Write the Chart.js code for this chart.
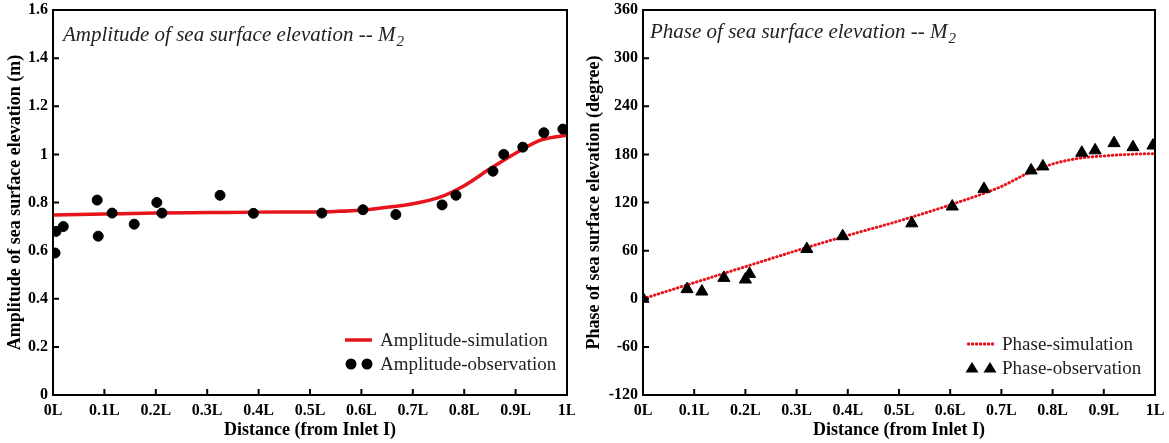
<!DOCTYPE html>
<html>
<head>
<meta charset="utf-8">
<script src="https://cdn.jsdelivr.net/npm/chart.js@4/dist/chart.umd.min.js"></script>
<style>
    html, body { margin: 0; padding: 0; background: #fff; }
    #wrap { position: relative; width: 1169px; height: 443px; }
    canvas { position: absolute; top: 0; }
</style>
</head>
<body>
<div id="wrap">
    <canvas id="ampChart" style="left:0;width:575px;height:443px"></canvas>
    <canvas id="phaseChart" style="left:575px;width:594px;height:443px"></canvas>
</div>
<script>
// ---- data ----
const xTickLabels = ['0L', '0.1L', '0.2L', '0.3L', '0.4L', '0.5L', '0.6L', '0.7L', '0.8L', '0.9L', '1L'];
const ampTickLabels = ['0', '0.2', '0.4', '0.6', '0.8', '1', '1.2', '1.4', '1.6'];
const phaseTickLabels = ['-120', '-60', '0', '60', '120', '180', '240', '300', '360'];

const ampSimX = [0, 0.1, 0.2, 0.3, 0.4, 0.5, 0.55, 0.6, 0.65, 0.7, 0.75, 0.8, 0.85, 0.9, 0.95, 1.0];
const ampSimY = [0.748, 0.752, 0.756, 0.758, 0.76, 0.761, 0.763, 0.768, 0.78, 0.795, 0.82, 0.87, 0.94, 1.005, 1.06, 1.08];

const ampObsX = [0.004, 0.006, 0.02, 0.086, 0.088, 0.115, 0.158, 0.202, 0.212, 0.325, 0.39, 0.523, 0.603, 0.667, 0.757, 0.784, 0.856, 0.877, 0.914, 0.955, 0.992];
const ampObsY = [0.59, 0.68, 0.70, 0.81, 0.66, 0.756, 0.71, 0.80, 0.756, 0.83, 0.755, 0.756, 0.77, 0.75, 0.79, 0.83, 0.93, 1.0, 1.03, 1.09, 1.105];

const phaseSimX = [0, 0.1, 0.2, 0.3, 0.4, 0.5, 0.6, 0.7, 0.75, 0.8, 0.85, 0.9, 0.95, 1.0];
const phaseSimY = [0, 20, 40, 60, 79, 97, 117, 140, 156, 168, 175, 178, 180, 181];

const phaseObsX = [0, 0.086, 0.115, 0.158, 0.2, 0.208, 0.32, 0.39, 0.525, 0.604, 0.666, 0.758, 0.781, 0.857, 0.883, 0.92, 0.957, 0.996];
const phaseObsY = [0, 12, 9, 26, 24, 31, 62, 78, 94, 115, 137, 160, 165, 182, 185, 194, 189, 191];

const serif = "'Liberation Serif', 'Times New Roman', serif";
const red = '#e8141c';

function toPoints(xs, ys) {
    return xs.map((x, i) => ({ x: x, y: ys[i] }));
}

// frame box, inward ticks, italic title inside and legend in lower right
const decorPlugin = {
    id: 'decor',
    afterDraw(chart, args, opts) {
        const ctx = chart.ctx;
        const a = chart.chartArea;
        const xs = chart.scales.x;
        const ys = chart.scales.y;
        ctx.save();
        ctx.strokeStyle = '#000';
        ctx.lineWidth = 2;
        ctx.strokeRect(a.left, a.top, a.right - a.left, a.bottom - a.top);

        // inward tick marks
        ctx.beginPath();
        xs.ticks.forEach(t => {
            const px = xs.getPixelForValue(t.value);
            ctx.moveTo(px, a.bottom);
            ctx.lineTo(px, a.bottom - 6);
        });
        ys.ticks.forEach(t => {
            const py = ys.getPixelForValue(t.value);
            ctx.moveTo(a.left, py);
            ctx.lineTo(a.left + 6, py);
        });
        ctx.stroke();

        // title with subscript
        ctx.fillStyle = '#222';
        ctx.textBaseline = 'alphabetic';
        ctx.font = "italic 21px " + serif;
        ctx.fillText(opts.title, opts.titleX, opts.titleY);
        const w = ctx.measureText(opts.title).width;
        ctx.font = "italic 15px " + serif;
        ctx.fillText('2', opts.titleX + w + 1, opts.titleY + 5);

        // legend
        ctx.font = "19px " + serif;
        ctx.textBaseline = 'middle';
        opts.legend.forEach((item, i) => {
            const y = opts.legendY + i * 24;
            const x0 = opts.legendX;
            if (item.kind === 'line') {
                ctx.strokeStyle = red;
                ctx.lineWidth = 3.5;
                ctx.beginPath();
                ctx.moveTo(x0, y);
                ctx.lineTo(x0 + 27, y);
                ctx.stroke();
            } else if (item.kind === 'dotted') {
                ctx.fillStyle = red;
                for (let k = 0; k < 7; k++) {
                    ctx.beginPath();
                    ctx.arc(x0 + 1.5 + k * 4, y, 1.7, 0, Math.PI * 2);
                    ctx.fill();
                }
            } else if (item.kind === 'dots') {
                ctx.fillStyle = '#000';
                [x0 + 6, x0 + 22].forEach(cx => {
                    ctx.beginPath();
                    ctx.arc(cx, y, 5.5, 0, Math.PI * 2);
                    ctx.fill();
                });
            } else if (item.kind === 'triangles') {
                ctx.fillStyle = '#000';
                [x0 + 5, x0 + 23].forEach(cx => {
                    ctx.beginPath();
                    ctx.moveTo(cx, y - 6);
                    ctx.lineTo(cx + 6.5, y + 4.5);
                    ctx.lineTo(cx - 6.5, y + 4.5);
                    ctx.closePath();
                    ctx.fill();
                });
            }
            ctx.fillStyle = '#222';
            ctx.fillText(item.text, opts.legendTextX, y + 1);
        });
        ctx.restore();
    }
};

// labels may hang over the plot edges; keep the plot box where layout.padding puts it
function noOverhang(s) {
    s.paddingTop = 0;
    s.paddingBottom = 0;
    s.paddingLeft = 0;
    s.paddingRight = 0;
}

function makeScales(yMin, yMax, yStep, yLabels, yTitle, yWidth, yTitlePad) {
    return {
        x: {
            type: 'linear',
            min: 0,
            max: 1,
            ticks: {
                stepSize: 0.1,
                padding: 6,
                color: '#000',
                maxRotation: 0,
                autoSkip: false,
                font: { family: serif, weight: 'bold', size: 16 },
                callback: v => xTickLabels[Math.round(v * 10)]
            },
            grid: { drawOnChartArea: false, drawTicks: false },
            border: { color: '#000', width: 2 },
            title: {
                display: true,
                text: 'Distance (from Inlet I)',
                color: '#000',
                font: { family: serif, weight: 'bold', size: 18 },
                padding: { top: 0, bottom: 2 }
            },
            afterFit: s => { s.height = 48; noOverhang(s); }
        },
        y: {
            type: 'linear',
            min: yMin,
            max: yMax,
            ticks: {
                stepSize: yStep,
                padding: 5,
                color: '#000',
                font: { family: serif, weight: 'bold', size: 16 },
                callback: v => yLabels[Math.round((v - yMin) / yStep)]
            },
            grid: { drawOnChartArea: false, drawTicks: false },
            border: { color: '#000', width: 2 },
            title: {
                display: true,
                text: yTitle,
                color: '#000',
                font: { family: serif, weight: 'bold', size: 18 },
                padding: { top: yTitlePad, bottom: 0 }
            },
            afterFit: s => { s.width = yWidth; noOverhang(s); }
        }
    };
}

new Chart(document.getElementById('ampChart'), {
    type: 'scatter',
    data: {
        datasets: [
            {
                label: 'Amplitude-simulation',
                type: 'line',
                data: toPoints(ampSimX, ampSimY),
                borderColor: red,
                borderWidth: 3.5,
                pointRadius: 0,
                cubicInterpolationMode: 'monotone',
                order: 2
            },
            {
                label: 'Amplitude-observation',
                data: toPoints(ampObsX, ampObsY),
                backgroundColor: '#000',
                borderColor: '#000',
                borderWidth: 1,
                pointRadius: 5,
                order: 1
            }
        ]
    },
    options: {
        responsive: false,
        animation: false,
        layout: { padding: { top: 10, right: 8, left: 0, bottom: 0 } },
        scales: makeScales(0, 1.6, 0.2, ampTickLabels, 'Amplitude of sea surface elevation (m)', 53, 5),
        plugins: {
            legend: { display: false },
            tooltip: { enabled: false },
            decor: {
                title: 'Amplitude of sea surface elevation -- M',
                titleX: 63,
                titleY: 41,
                legendX: 345,
                legendY: 340,
                legendTextX: 380,
                legend: [
                    { kind: 'line', text: 'Amplitude-simulation' },
                    { kind: 'dots', text: 'Amplitude-observation' }
                ]
            }
        }
    },
    plugins: [decorPlugin]
});

new Chart(document.getElementById('phaseChart'), {
    type: 'scatter',
    data: {
        datasets: [
            {
                label: 'Phase-simulation',
                type: 'line',
                data: toPoints(phaseSimX, phaseSimY),
                borderColor: red,
                borderWidth: 3,
                borderDash: [0.5, 3.5],
                borderCapStyle: 'round',
                pointRadius: 0,
                cubicInterpolationMode: 'monotone',
                order: 2
            },
            {
                label: 'Phase-observation',
                data: toPoints(phaseObsX, phaseObsY),
                pointStyle: 'triangle',
                backgroundColor: '#000',
                borderColor: '#000',
                borderWidth: 1,
                pointRadius: 7,
                order: 1
            }
        ]
    },
    options: {
        responsive: false,
        animation: false,
        layout: { padding: { top: 10, right: 14, left: 0, bottom: 0 } },
        scales: makeScales(-120, 360, 60, phaseTickLabels, 'Phase of sea surface elevation (degree)', 68, 9),
        plugins: {
            legend: { display: false },
            tooltip: { enabled: false },
            decor: {
                title: 'Phase of sea surface elevation -- M',
                titleX: 75,
                titleY: 38,
                legendX: 392,
                legendY: 344,
                legendTextX: 427,
                legend: [
                    { kind: 'dotted', text: 'Phase-simulation' },
                    { kind: 'triangles', text: 'Phase-observation' }
                ]
            }
        }
    },
    plugins: [decorPlugin]
});
</script>
</body>
</html>
